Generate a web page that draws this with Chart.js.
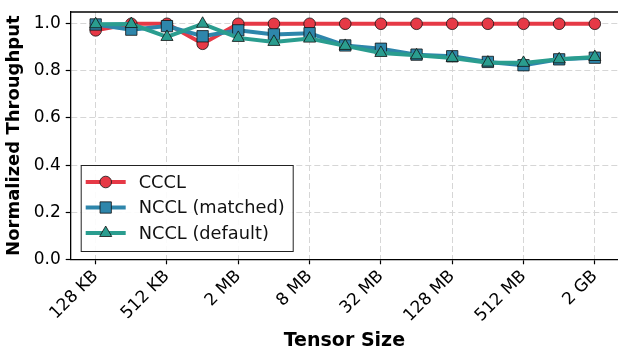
<!DOCTYPE html>
<html>
<head>
<meta charset="utf-8">
<script src="https://cdn.jsdelivr.net/npm/chart.js@4/dist/chart.umd.min.js"></script>
<style>
  html, body { margin: 0; padding: 0; background: #fff; }
  #wrap { width: 618px; height: 353px; }
</style>
</head>
<body>
<div id="wrap"><canvas id="chart" width="618" height="353"></canvas></div>
<script>
// tensor sizes, one point per doubling
const sizes = ['128 KB', '256 KB', '512 KB', '1 MB', '2 MB', '4 MB', '8 MB', '16 MB',
    '32 MB', '64 MB', '128 MB', '256 MB', '512 MB', '1 GB', '2 GB']
const cccl = [0.972, 1.0, 1.0, 0.915, 1.0, 1.0, 1.0, 1.0, 1.0, 1.0, 1.0, 1.0, 1.0, 1.0, 1.0]
const ncclMatched = [0.997, 0.975, 0.99, 0.947, 0.972, 0.955, 0.96, 0.908, 0.894, 0.869, 0.862, 0.838, 0.824, 0.849, 0.856]
const ncclDefault = [0.998, 0.999, 0.944, 1.0, 0.94, 0.923, 0.937, 0.906, 0.876, 0.866, 0.855, 0.835, 0.834, 0.849, 0.859]
const yTicks = [0.0, 0.2, 0.4, 0.6, 0.8, 1.0]

const font = "'DejaVu Sans', sans-serif"

function toPoints(values) {
    return values.map((v, i) => ({x: i, y: v}))
}

// legend drawn inside the plot, lower left
const innerLegend = {
    id: 'innerLegend',
    afterDatasetsDraw(chart) {
        const ctx = chart.ctx
        const area = chart.chartArea
        const x0 = area.left + 10, y0 = 165
        const w = 212, h = 86
        ctx.save()
        ctx.fillStyle = 'rgba(255,255,255,0.9)'
        ctx.fillRect(x0, y0, w, h)
        ctx.strokeStyle = '#222'
        ctx.lineWidth = 1
        ctx.strokeRect(x0 + 0.5, y0 + 0.5, w, h)
        chart.data.datasets.forEach((ds, i) => {
            const cy = y0 + 17 + i * 25.5
            ctx.strokeStyle = ds.borderColor
            ctx.lineWidth = ds.borderWidth
            ctx.beginPath()
            ctx.moveTo(x0 + 5, cy)
            ctx.lineTo(x0 + 45, cy)
            ctx.stroke()
            ctx.fillStyle = ds.pointBackgroundColor
            ctx.strokeStyle = ds.pointBorderColor
            ctx.lineWidth = ds.pointBorderWidth
            Chart.helpers.drawPoint(ctx, {pointStyle: ds.pointStyle, radius: ds.pointRadius, borderWidth: ds.pointBorderWidth}, x0 + 25, cy)
            ctx.fillStyle = '#111'
            ctx.font = '17.8px ' + font
            ctx.textBaseline = 'middle'
            ctx.fillText(ds.label, x0 + 58, cy + 1)
        })
        ctx.restore()
    },
    afterDraw(chart) {
        // top spine
        const ctx = chart.ctx
        const area = chart.chartArea
        ctx.save()
        ctx.strokeStyle = '#000'
        ctx.lineWidth = 1.3
        ctx.beginPath()
        ctx.moveTo(area.left, area.top)
        ctx.lineTo(area.right, area.top)
        ctx.stroke()
        ctx.restore()
    }
}

const lineDs = (label, values, color, style, radius, order) => ({
    label: label,
    data: toPoints(values),
    borderColor: color,
    backgroundColor: color,
    borderWidth: 4,
    pointStyle: style,
    pointRadius: radius,
    pointHoverRadius: radius,
    pointBackgroundColor: color,
    pointBorderColor: '#111',
    pointBorderWidth: 0.8,
    tension: 0,
    order: order
})

new Chart(document.getElementById('chart'), {
    type: 'line',
    data: {
        datasets: [
            lineDs('CCCL', cccl, '#E63946', 'circle', 5.8, 3),
            lineDs('NCCL (matched)', ncclMatched, '#2E86AB', 'rect', 8, 2),
            lineDs('NCCL (default)', ncclDefault, '#2A9D8F', 'triangle', 7, 1)
        ]
    },
    options: {
        responsive: false,
        animation: false,
        layout: {autoPadding: false, padding: {left: 0, top: 12, right: 0, bottom: 0}},
        plugins: {
            legend: {display: false},
            tooltip: {enabled: false}
        },
        scales: {
            x: {
                type: 'linear',
                min: -0.7,
                max: 14.65,
                afterBuildTicks: (scale) => {
                    scale.ticks = sizes.map((s, i) => ({value: i})).filter(t => t.value % 2 === 0)
                },
                afterFit: (scale) => {
                    scale.height = 93.7
                    scale.paddingLeft = 0
                    scale.paddingRight = 0
                },
                ticks: {
                    autoSkip: false,
                    minRotation: 45,
                    maxRotation: 45,
                    padding: 2,
                    color: '#000',
                    font: {family: font, size: 17},
                    callback: (v) => sizes[v]
                },
                grid: {
                    color: '#d6d6d6',
                    lineWidth: 1,
                    tickColor: '#000',
                    tickLength: 5,
                    tickWidth: 1.2
                },
                border: {display: true, color: '#000', width: 1.3, dash: [6, 3]},
                title: {
                    display: true,
                    text: 'Tensor Size',
                    color: '#000',
                    font: {family: font, size: 19, weight: 'bold'},
                    padding: {top: 0, bottom: 0.5}
                }
            },
            y: {
                min: 0,
                max: 1.05,
                afterBuildTicks: (scale) => {
                    scale.ticks = yTicks.map(v => ({value: v}))
                },
                afterFit: (scale) => {
                    scale.width = 70.7
                    scale.paddingTop = 0
                    scale.paddingBottom = 0
                },
                ticks: {
                    padding: 5,
                    color: '#000',
                    font: {family: font, size: 17},
                    callback: (v) => v.toFixed(1)
                },
                grid: {
                    color: '#d6d6d6',
                    lineWidth: 1,
                    tickColor: '#000',
                    tickLength: 5,
                    tickWidth: 1.2
                },
                border: {display: true, color: '#000', width: 1.3, dash: [6, 3]},
                title: {
                    display: true,
                    text: 'Normalized Throughput',
                    color: '#000',
                    font: {family: font, size: 18, weight: 'bold'},
                    padding: {top: 3.5, bottom: 0}
                }
            }
        }
    },
    plugins: [innerLegend]
})
</script>
</body>
</html>
